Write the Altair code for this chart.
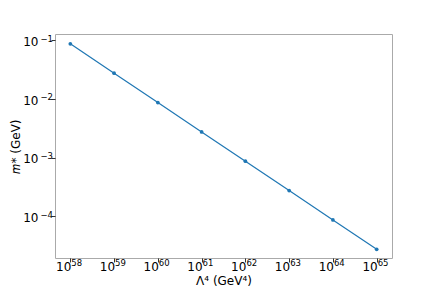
import altair as alt
import pandas as pd

lam4 = [1e58, 1e59, 1e60, 1e61, 1e62, 1e63, 1e64, 1e65]
mstar = [0.087, 0.0275, 0.0087, 0.00275, 0.00087, 0.000275, 0.000087, 0.0000275]
x_ticks = [1e58, 1e59, 1e60, 1e61, 1e62, 1e63, 1e64, 1e65]
x_exps = ["58", "59", "60", "61", "62", "63", "64", "65"]
y_ticks = [1e-1, 1e-2, 1e-3, 1e-4]
y_exps = ["−1", "−2", "−3", "−4"]

df = pd.DataFrame({"x": lam4, "y": mstar})
dfx = pd.DataFrame({"x": x_ticks, "e": x_exps, "b": ["10"] * len(x_ticks)})
dfy = pd.DataFrame({"y": y_ticks, "e": y_exps, "b": ["10"] * len(y_ticks)})

F = "DejaVu Sans"
xs = alt.Scale(type="log", domain=[10**57.65, 10**65.35], nice=False)
ys = alt.Scale(type="log", domain=[10**-4.708, 10**-0.894], nice=False)

common = dict(grid=False, domain=False, labels=False, tickColor="#000000", tickSize=4,
              tickWidth=0.8, titleFont=F, titleFontSize=12, titleFontWeight="normal",
              titleColor="#000000", titleBaseline="alphabetic")

base = alt.Chart(df).encode(
    x=alt.X("x:Q", scale=xs, title="Λ⁴ (GeV⁴)",
            axis=alt.Axis(values=x_ticks, titleY=26, **common)),
    y=alt.Y("y:Q", scale=ys, title="𝑚* (GeV)",
            axis=alt.Axis(values=y_ticks, titleX=-36, titleY=112, titleAngle=-90, **common)),
)

line = base.mark_line(color="#1f77b4", strokeWidth=1.2)
pts = base.mark_point(color="#1f77b4", filled=True, size=14, opacity=1)

xb = alt.Chart(dfx).mark_text(font=F, fontSize=12, align="right", baseline="alphabetic",
                              dx=1, color="#000000").encode(
    x=alt.X("x:Q", scale=xs), y=alt.value(237), text="b:N")
xe = alt.Chart(dfx).mark_text(font=F, fontSize=8.5, align="left", baseline="alphabetic",
                              dx=1, color="#000000").encode(
    x=alt.X("x:Q", scale=xs), y=alt.value(231.5), text="e:N")

yb = alt.Chart(dfy).mark_text(font=F, fontSize=12, align="right", baseline="alphabetic",
                              dy=5.7, color="#000000").encode(
    y=alt.Y("y:Q", scale=ys), x=alt.value(-16.5), text="b:N")
ye = alt.Chart(dfy).mark_text(font=F, fontSize=8.5, align="right", baseline="alphabetic",
                              dy=1.5, color="#000000").encode(
    y=alt.Y("y:Q", scale=ys), x=alt.value(-2), text="e:N")

chart = alt.layer(line, pts, xb, xe, yb, ye).properties(
    width=337, height=224,
    autosize=alt.AutoSizeParams(type="none"),
    padding={"left": 47, "top": 26, "right": 36, "bottom": 30},
).configure_view(stroke="#aaaaaa", strokeWidth=1)

chart.save("out.html", embed_options={"renderer": "svg", "actions": False})
